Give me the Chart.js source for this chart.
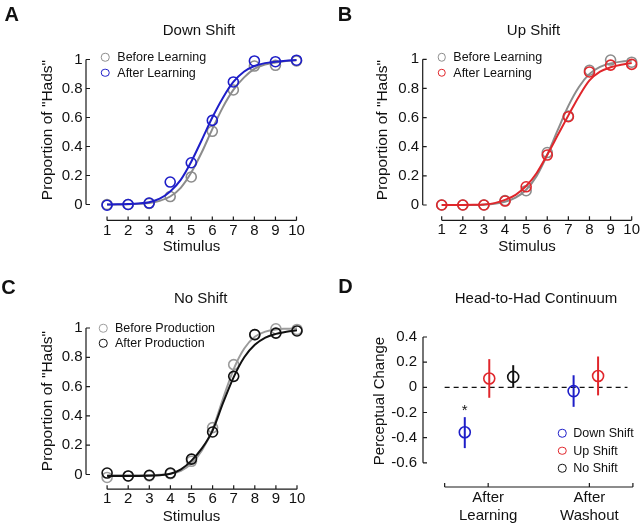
<!DOCTYPE html>
<html><head><meta charset="utf-8">
<script src="https://cdn.jsdelivr.net/npm/chart.js@4/dist/chart.umd.min.js"></script>
<style>
html,body{margin:0;padding:0;background:#fff;}
#fig{position:relative;width:640px;height:525px;overflow:hidden;font-family:"Liberation Sans",Arial,Helvetica,sans-serif;color:#111;}
#fig canvas{position:absolute;}
.t{position:absolute;white-space:nowrap;transform:translate(-50%,-50%);line-height:1.15;}
.r{transform:translate(-50%,-50%) rotate(-90deg);}
.lt{position:absolute;white-space:nowrap;transform:translate(0,-50%);line-height:1.15;font-size:12.5px;}
.mk{position:absolute;box-sizing:border-box;width:8.5px;height:8.5px;border:1.5px solid;border-radius:50%;transform:translate(-50%,-50%);}
.letter{font-weight:bold;font-size:20px;}
</style></head><body><div id="fig">
<canvas id="cA" width="320" height="262" style="left:0;top:0"></canvas>
<canvas id="cB" width="320" height="262" style="left:320px;top:0"></canvas>
<canvas id="cC" width="320" height="263" style="left:0;top:262px"></canvas>
<canvas id="cD" width="320" height="263" style="left:320px;top:262px"></canvas>
</div>
<script>
// ---------------- DATA ----------------
const stimulus = [1, 2, 3, 4, 5, 6, 7, 8, 9, 10];
const fitX = [1, 1.5, 2, 2.5, 3, 3.5, 4, 4.5, 5, 5.5, 6, 6.5, 7, 7.5, 8, 8.5, 9, 9.5, 10];
const yTicksProp = [0, 0.2, 0.4, 0.6, 0.8, 1];

// A: Down Shift
const downBeforePts = [0, 0, 0.008, 0.055, 0.19, 0.505, 0.79, 0.955, 0.96, 0.99];
const downAfterPts  = [-0.005, 0, 0.01, 0.155, 0.288, 0.58, 0.845, 0.99, 0.985, 0.995];
const downBeforeFit = [0, 0, 0.002, 0.005, 0.01, 0.025, 0.055, 0.115, 0.22, 0.36, 0.52, 0.67, 0.79, 0.875, 0.935, 0.965, 0.98, 0.99, 0.995];
const downAfterFit  = [0, 0.001, 0.003, 0.007, 0.016, 0.04, 0.09, 0.17, 0.295, 0.445, 0.6, 0.735, 0.845, 0.915, 0.955, 0.975, 0.985, 0.992, 0.996];

// B: Up Shift
const upBeforePts = [0, 0, 0, 0.03, 0.098, 0.36, 0.61, 0.925, 0.995, 0.98];
const upAfterPts  = [0, 0, 0, 0.027, 0.125, 0.343, 0.606, 0.913, 0.96, 0.965];
const upBeforeFit = [0, 0, 0, 0, 0.002, 0.008, 0.022, 0.05, 0.105, 0.2, 0.345, 0.515, 0.68, 0.81, 0.9, 0.948, 0.972, 0.984, 0.99];
const upAfterFit  = [0, 0, 0, 0.001, 0.004, 0.013, 0.035, 0.07, 0.13, 0.22, 0.345, 0.48, 0.615, 0.745, 0.855, 0.915, 0.945, 0.963, 0.975];

// C: No Shift
const noBeforePts = [-0.02, -0.01, -0.01, 0.005, 0.09, 0.32, 0.75, 0.955, 0.995, 0.99];
const noAfterPts  = [0.01, -0.01, -0.005, 0.01, 0.105, 0.29, 0.67, 0.955, 0.965, 0.98];
const noBeforeFit = [-0.005, -0.005, -0.005, -0.005, -0.004, -0.002, 0.005, 0.025, 0.075, 0.165, 0.31, 0.52, 0.72, 0.86, 0.94, 0.975, 0.99, 0.995, 0.998];
const noAfterFit  = [-0.01, -0.01, -0.01, -0.01, -0.009, -0.005, 0.005, 0.035, 0.095, 0.18, 0.3, 0.49, 0.665, 0.8, 0.885, 0.935, 0.96, 0.975, 0.985];

// D: Head-to-Had Continuum
const groupLabels = [['After', 'Learning'], ['After', 'Washout']];
const yTicksChange = [-0.6, -0.4, -0.2, 0, 0.2, 0.4];
const downShiftMean = [-0.357, -0.03];
const downShiftLow  = [-0.483, -0.155];
const downShiftHigh = [-0.237, 0.096];
const downShiftSig  = [true, false];
const upShiftMean = [0.07, 0.09];
const upShiftLow  = [-0.083, -0.064];
const upShiftHigh = [0.224, 0.245];
const noShiftMean = [0.083, null];
const noShiftLow  = [-0.003, null];
const noShiftHigh = [0.176, null];

// ---------------- STYLE / LAYOUT ----------------
const FONT = '"Liberation Sans", Arial, Helvetica, sans-serif';
Chart.defaults.font.family = FONT;
Chart.defaults.color = '#111';
const BLUE = '#1e1ec8', RED = '#e0262b', GRAY = '#8c8c8c', LGRAY = '#9c9c9c', BLACK = '#111111';

function pair(xs, ys) { return xs.map((x, i) => ({x: x, y: ys[i]})); }
const fmt = v => String(Math.round(v * 10) / 10);

function axisPlugin(spec) {
  return {
    id: 'axisLines',
    beforeDatasetsDraw(chart) {
      const {ctx, chartArea: a, scales: {x, y}} = chart;
      ctx.save();
      ctx.strokeStyle = '#1a1a1a'; ctx.lineWidth = 1.2;
      const ax = a.left, ay = a.bottom;
      ctx.beginPath();
      ctx.moveTo(ax, y.getPixelForValue(spec.yFrom)); ctx.lineTo(ax, y.getPixelForValue(spec.yTo));
      spec.yTicks.forEach(v => { const p = y.getPixelForValue(v); ctx.moveTo(ax, p); ctx.lineTo(ax + 4, p); });
      ctx.moveTo(x.getPixelForValue(spec.xFrom), ay); ctx.lineTo(x.getPixelForValue(spec.xTo), ay);
      spec.xTicks.forEach(v => { const p = x.getPixelForValue(v); ctx.moveTo(p, ay); ctx.lineTo(p, ay - 4); });
      ctx.stroke();
      ctx.restore();
    }
  };
}

function psychChart(id, c) {
  const pts = (d, col) => ({data: pair(stimulus, d), borderColor: col, backgroundColor: 'rgba(0,0,0,0)',
    pointRadius: 5, pointBorderWidth: 1.6, showLine: false, clip: false});
  const fit = (d, col) => ({data: pair(fitX, d), borderColor: col, borderWidth: 2, pointRadius: 0,
    showLine: true, cubicInterpolationMode: 'monotone', clip: false});
  return new Chart(document.getElementById(id), {
    type: 'scatter',
    data: {datasets: [pts(c.afterPts, c.afterColor), fit(c.afterFit, c.afterColor),
                      pts(c.beforePts, c.beforeColor), fit(c.beforeFit, c.beforeColor)]},
    options: {
      responsive: false, animation: false, devicePixelRatio: 1,
      layout: {padding: c.pad},
      plugins: {legend: {display: false}, tooltip: {enabled: false}},
      scales: {
        x: {type: 'linear', min: c.xMin, max: 10,
            afterBuildTicks: s => { s.ticks = stimulus.map(v => ({value: v})); },
            ticks: {font: {size: 15, lineHeight: 1.2}, color: '#111', padding: 1, autoSkip: false, maxRotation: 0},
            grid: {display: false, drawTicks: false}, border: {display: false},
            afterFit: s => { s.height = 30; s.paddingLeft = 0; s.paddingRight = 0; }},
        y: {type: 'linear', min: c.yMin, max: 1,
            afterBuildTicks: s => { s.ticks = yTicksProp.map(v => ({value: v})); },
            ticks: {font: {size: 15, lineHeight: 1.2}, color: '#111', padding: 3.5, callback: fmt},
            grid: {display: false, drawTicks: false}, border: {display: false},
            afterFit: s => { s.width = c.yW; s.paddingTop = 0; s.paddingBottom = 0; }}
      }
    },
    plugins: [axisPlugin({yFrom: 0, yTo: 1, yTicks: yTicksProp, xFrom: 1, xTo: 10, xTicks: stimulus})]
  });
}

psychChart('cA', {afterPts: downAfterPts, afterFit: downAfterFit, afterColor: BLUE,
  beforePts: downBeforePts, beforeFit: downBeforeFit, beforeColor: GRAY,
  xMin: 0, yMin: -0.11, yW: 86, pad: {top: 59.5, right: 23.5, bottom: 11.55, left: 0}});
psychChart('cB', {afterPts: upAfterPts, afterFit: upAfterFit, afterColor: RED,
  beforePts: upBeforePts, beforeFit: upBeforeFit, beforeColor: GRAY,
  xMin: 0.1, yMin: -0.105, yW: 102.7, pad: {top: 59.3, right: 8.3, bottom: 11.7, left: 0}});
psychChart('cC', {afterPts: noAfterPts, afterFit: noAfterFit, afterColor: BLACK,
  beforePts: noBeforePts, beforeFit: noBeforeFit, beforeColor: LGRAY,
  xMin: 0, yMin: -0.1, yW: 86, pad: {top: 66, right: 23, bottom: 5.85, left: 0}});

// ---- Panel D ----
const groupPos = [1, 2];
const labelPos = [0.99, 1.92];
const conds = [
  {label: 'Down Shift', color: BLUE, mean: downShiftMean, lo: downShiftLow, hi: downShiftHigh, off: -0.225},
  {label: 'Up Shift', color: RED, mean: upShiftMean, lo: upShiftLow, hi: upShiftHigh, off: 0},
  {label: 'No Shift', color: BLACK, mean: noShiftMean, lo: noShiftLow, hi: noShiftHigh, off: 0.22}
];
const dSets = [];
conds.forEach(c => {
  dSets.push({label: c.label, data: groupPos.map((g, i) => c.mean[i] == null ? null : {x: g + c.off, y: c.mean[i]}).filter(Boolean),
    borderColor: c.color, backgroundColor: 'rgba(0,0,0,0)', pointRadius: 5.5, pointBorderWidth: 1.6, showLine: false, clip: false});
});
conds.forEach(c => {
  groupPos.forEach((g, i) => {
    if (c.mean[i] == null) return;
    dSets.push({data: [{x: g + c.off, y: c.lo[i]}, {x: g + c.off, y: c.hi[i]}], borderColor: c.color, borderWidth: 2,
      pointRadius: 0, showLine: true, clip: false});
  });
});
dSets.push({data: [{x: 0.59, y: 0}, {x: 2.27, y: 0}], borderColor: '#111', borderWidth: 1.2, borderDash: [5, 4],
  pointRadius: 0, showLine: true});

const sigPlugin = {
  id: 'sig',
  afterDatasetsDraw(chart) {
    const {ctx, scales: {x, y}} = chart;
    ctx.save(); ctx.fillStyle = '#111'; ctx.font = '15px ' + FONT; ctx.textAlign = 'center'; ctx.textBaseline = 'alphabetic';
    downShiftSig.forEach((s, i) => {
      if (!s) return;
      ctx.fillText('*', x.getPixelForValue(groupPos[i] + conds[0].off), y.getPixelForValue(downShiftHigh[i]) - 2.5);
    });
    ctx.restore();
  }
};

new Chart(document.getElementById('cD'), {
  type: 'scatter',
  data: {datasets: dSets},
  options: {
    responsive: false, animation: false, devicePixelRatio: 1,
    layout: {padding: {top: 75, right: 4.8, bottom: 0, left: 0}},
    plugins: {legend: {display: false}, tooltip: {enabled: false}},
    scales: {
      x: {type: 'linear', min: 0.391, max: 2.32,
          afterBuildTicks: s => { s.ticks = labelPos.map(v => ({value: v})); },
          ticks: {font: {size: 15, lineHeight: 1.2}, color: '#111', padding: 2, autoSkip: false, maxRotation: 0,
                  callback: (v, i) => groupLabels[i]},
          grid: {display: false, drawTicks: false}, border: {display: false},
          afterFit: s => { s.height = 38; s.paddingLeft = 0; s.paddingRight = 0; }},
      y: {type: 'linear', min: -0.792, max: 0.4,
          afterBuildTicks: s => { s.ticks = yTicksChange.map(v => ({value: v})); },
          ticks: {font: {size: 15, lineHeight: 1.2}, color: '#111', padding: 6, callback: fmt},
          grid: {display: false, drawTicks: false}, border: {display: false},
          afterFit: s => { s.width = 103; s.paddingTop = 0; s.paddingBottom = 0; }}
    }
  },
  plugins: [axisPlugin({yFrom: -0.6, yTo: 0.4, yTicks: yTicksChange, xFrom: 0.59, xTo: 2.32, xTicks: [0.59, 0.99, 1.92, 2.32]}), sigPlugin]
});

// ---------------- TEXT ----------------
const fig = document.getElementById('fig');
function txt(s, x, y, cls, size) {
  const d = document.createElement('div');
  d.className = 't ' + (cls || '');
  d.textContent = s;
  d.style.left = x + 'px'; d.style.top = y + 'px';
  if (size) d.style.fontSize = size + 'px';
  fig.appendChild(d);
}
function legend(items, mx, tx, y0, dy) {
  items.forEach((it, i) => {
    const m = document.createElement('div');
    m.className = 'mk'; m.style.borderColor = it.color;
    m.style.left = mx + 'px'; m.style.top = (y0 + i * dy) + 'px';
    fig.appendChild(m);
    const t = document.createElement('div');
    t.className = 'lt'; t.textContent = it.label;
    t.style.left = tx + 'px'; t.style.top = (y0 + i * dy) + 'px';
    fig.appendChild(t);
  });
}
txt('A', 11.7, 14, 'letter'); txt('B', 345, 14, 'letter');
txt('C', 8.5, 286.7, 'letter'); txt('D', 345.5, 286, 'letter');
txt('Down Shift', 199, 30, '', 15); txt('Up Shift', 533.5, 30, '', 15);
txt('No Shift', 200.7, 298.3, '', 15); txt('Head-to-Had Continuum', 536, 297.7, '', 15);
txt('Stimulus', 191.5, 246, '', 15); txt('Stimulus', 527, 246, '', 15); txt('Stimulus', 191.5, 515.7, '', 15);
txt('Proportion of "Hads"', 47, 130, 'r', 15.5); txt('Proportion of "Hads"', 381.7, 130, 'r', 15.5);
txt('Proportion of "Hads"', 46.7, 400.8, 'r', 15.5); txt('Perceptual Change', 379, 400.6, 'r', 15);
legend([{label: 'Before Learning', color: GRAY}, {label: 'After Learning', color: BLUE}], 105, 117.3, 57.3, 15.4);
legend([{label: 'Before Learning', color: GRAY}, {label: 'After Learning', color: RED}], 441.7, 453.3, 57.3, 15.4);
legend([{label: 'Before Production', color: LGRAY}, {label: 'After Production', color: BLACK}], 103.3, 115, 328.3, 15);
legend(conds.map(c => ({label: c.label, color: c.color})), 562.3, 573.3, 433.3, 17.5);
</script></body></html>
